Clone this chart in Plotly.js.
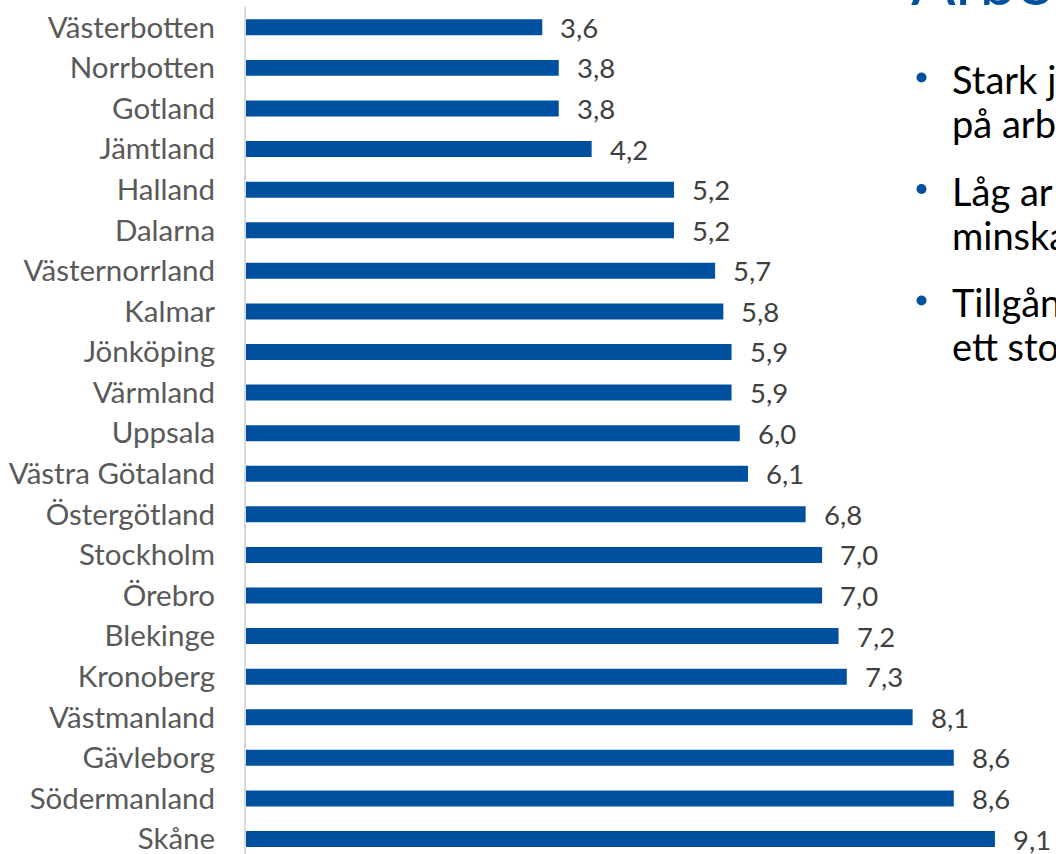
<!DOCTYPE html>
<html>
<head>
<meta charset="utf-8">
<script src="https://cdn.plot.ly/plotly-3.0.1.min.js"></script>
<style>html,body{margin:0;padding:0;background:#fff;overflow:hidden}#chart{width:1056px;height:854px}</style>
</head>
<body>
<div id="chart"></div>
<script>
const regions = ["Västerbotten","Norrbotten","Gotland","Jämtland","Halland","Dalarna","Västernorrland","Kalmar","Jönköping","Värmland","Uppsala","Västra Götaland","Östergötland","Stockholm","Örebro","Blekinge","Kronoberg","Västmanland","Gävleborg","Södermanland","Skåne"];
const values = [3.6,3.8,3.8,4.2,5.2,5.2,5.7,5.8,5.9,5.9,6.0,6.1,6.8,7.0,7.0,7.2,7.3,8.1,8.6,8.6,9.1];
const titleText = "Arbe";
const bulletLines = [["Stark j","på arb"],["Låg ar","minska"],["Tillgån","ett sto"]];

const W = 1056, H = 854;
const L = 246, T = 7, R = 0, B = 0;
const pw = W - L - R, ph = H - T - B;
const px = X => (X - L) / pw;
const py = Y => 1 - (Y - T) / ph;

const FONT = "Lato, 'Open Sans', sans-serif";
const BLUE = "#0050a0";

const annotations = values.map((v, i) => ({
  x: v, y: regions[i], xref: "x", yref: "y",
  text: v.toFixed(1).replace(".", ","),
  showarrow: false, xanchor: "left", yanchor: "middle", xshift: 16,
  font: {family: FONT, size: 27.5, color: "#404040"}
}));

// title (cut at top)
const titleSize = 66;
annotations.push({
  x: px(909), y: py(6 + 0.22*titleSize), xref: "paper", yref: "paper",
  text: titleText, showarrow: false, xanchor: "left", yanchor: "bottom",
  font: {family: FONT, size: titleSize, color: BLUE}
});

const bSize = 38;
const baselines = [[92,136],[203.5,247.5],[315,359]];
const shapes = [];
bulletLines.forEach((lines, bi) => {
  lines.forEach((t, li) => {
    annotations.push({
      x: px(950), y: py(baselines[bi][li] - 0.33*bSize), xref: "paper", yref: "paper",
      text: t, showarrow: false, xanchor: "left", yanchor: "middle",
      font: {family: FONT, size: bSize, color: "#000000"}
    });
  });
  const cy = baselines[bi][0] - 14.5;
  shapes.push({
    type: "circle", xref: "paper", yref: "paper",
    x0: px(916.5), x1: px(926.5), y0: py(cy - 5), y1: py(cy + 5),
    fillcolor: BLUE, line: {width: 0}
  });
});

const data = [{
  type: "bar", orientation: "h",
  x: values, y: regions,
  marker: {color: BLUE},
  hoverinfo: "none"
}];

const layout = {
  width: W, height: H,
  margin: {l: L, r: R, t: T, b: B, pad: 0},
  paper_bgcolor: "#ffffff", plot_bgcolor: "#ffffff",
  showlegend: false,
  bargap: 0.606,
  xaxis: {range: [0, pw / 82.3], visible: false, fixedrange: true},
  yaxis: {
    type: "category",
    range: [20 + (854 - 839) / 40.58, -0.5],
    showline: true, linecolor: "#d9d9d9", linewidth: 2,
    showgrid: false, zeroline: false, ticks: "",
    ticklabelstandoff: 23,
    tickfont: {family: FONT, size: 29.5, color: "#595959"},
    fixedrange: true
  },
  annotations: annotations,
  shapes: shapes
};

Plotly.newPlot("chart", data, layout, {staticPlot: true, displayModeBar: false});
</script>
</body>
</html>
